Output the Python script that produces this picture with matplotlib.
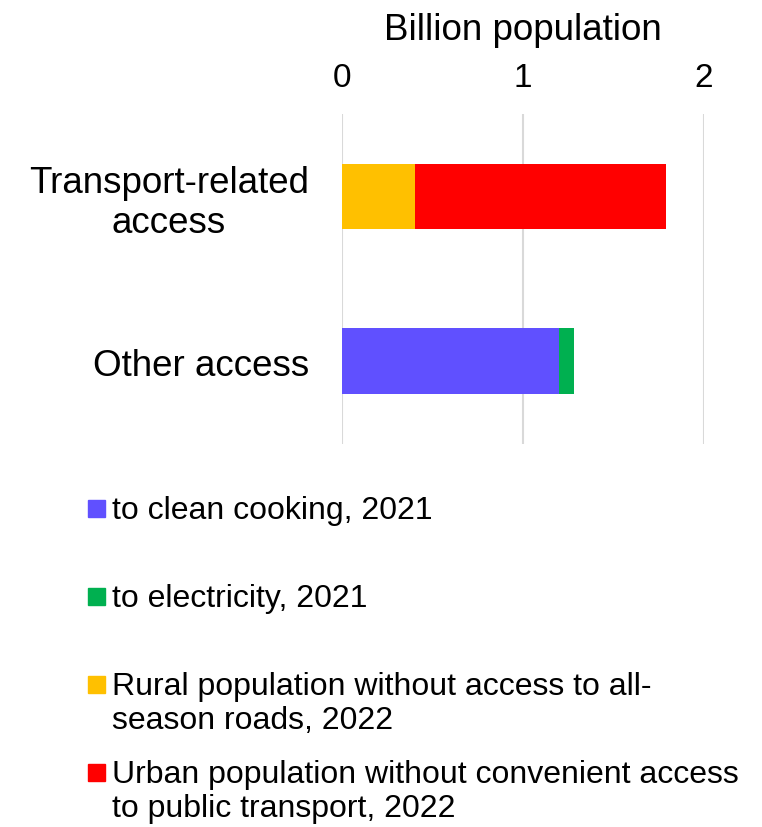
import matplotlib.pyplot as plt
from matplotlib.patches import Rectangle

plt.rcParams['font.family'] = ['Liberation Sans', 'DejaVu Sans']

# Datos (miles de millones de personas)
categorias = ["Other access", "Transport-related\naccess"]
series = [
    "to clean cooking, 2021",
    "to electricity, 2021",
    "Rural population without access to all-\nseason roads, 2022",
    "Urban population without convenient access\nto public transport, 2022",
]
clean_cooking = [1.20, 0.0]
electricity = [0.08, 0.0]
rural_roads = [0.0, 0.40]
urban_transport = [0.0, 1.39]
colores = ["#6050FF", "#00B050", "#FFC000", "#FF0000"]

valores = [clean_cooking, electricity, rural_roads, urban_transport]

fig = plt.figure(figsize=(7.62, 8.28), dpi=100)
ax = fig.add_axes([0.449, 0.4626, 0.475, 0.3985])

izquierda = [0.0] * len(categorias)
for vals, color in zip(valores, colores):
    ax.barh(range(len(categorias)), vals, left=izquierda, height=0.4,
            color=color, zorder=3)
    izquierda = [a + b for a, b in zip(izquierda, vals)]

ax.set_xlim(0, 2)
ax.set_ylim(-0.5, 1.5)
ax.set_xticks([0, 1, 2])
ax.xaxis.tick_top()
ax.xaxis.set_label_position("top")
ax.set_xlabel("Billion population", fontsize=26.5, labelpad=17)
ax.tick_params(axis="x", length=0, labelsize=24, pad=15)
ax.set_yticks(range(len(categorias)))
ax.set_yticklabels(categorias, fontsize=26.5, ha="right",
                   multialignment="center", linespacing=1.15)
ax.tick_params(axis="y", length=0, pad=24)
ax.grid(axis="x", color="#d9d9d9", linewidth=1.5, zorder=0)
for s in ax.spines.values():
    s.set_visible(False)

# Leyenda manual (el marcador se alinea con la primera línea)
y0 = 1 - 510 / 828
paso = 88 / 828
for i, (nombre, color) in enumerate(zip(series, colores)):
    y = y0 - i * paso
    fig.patches.append(Rectangle((88 / 762, y - 8 / 828), 17 / 762, 17 / 828,
                                 transform=fig.transFigure, color=color))
    fig.text(112 / 762, y + 14 / 828, nombre, fontsize=23, va="top",
             ha="left", linespacing=1.18)

fig.savefig("out.png")
